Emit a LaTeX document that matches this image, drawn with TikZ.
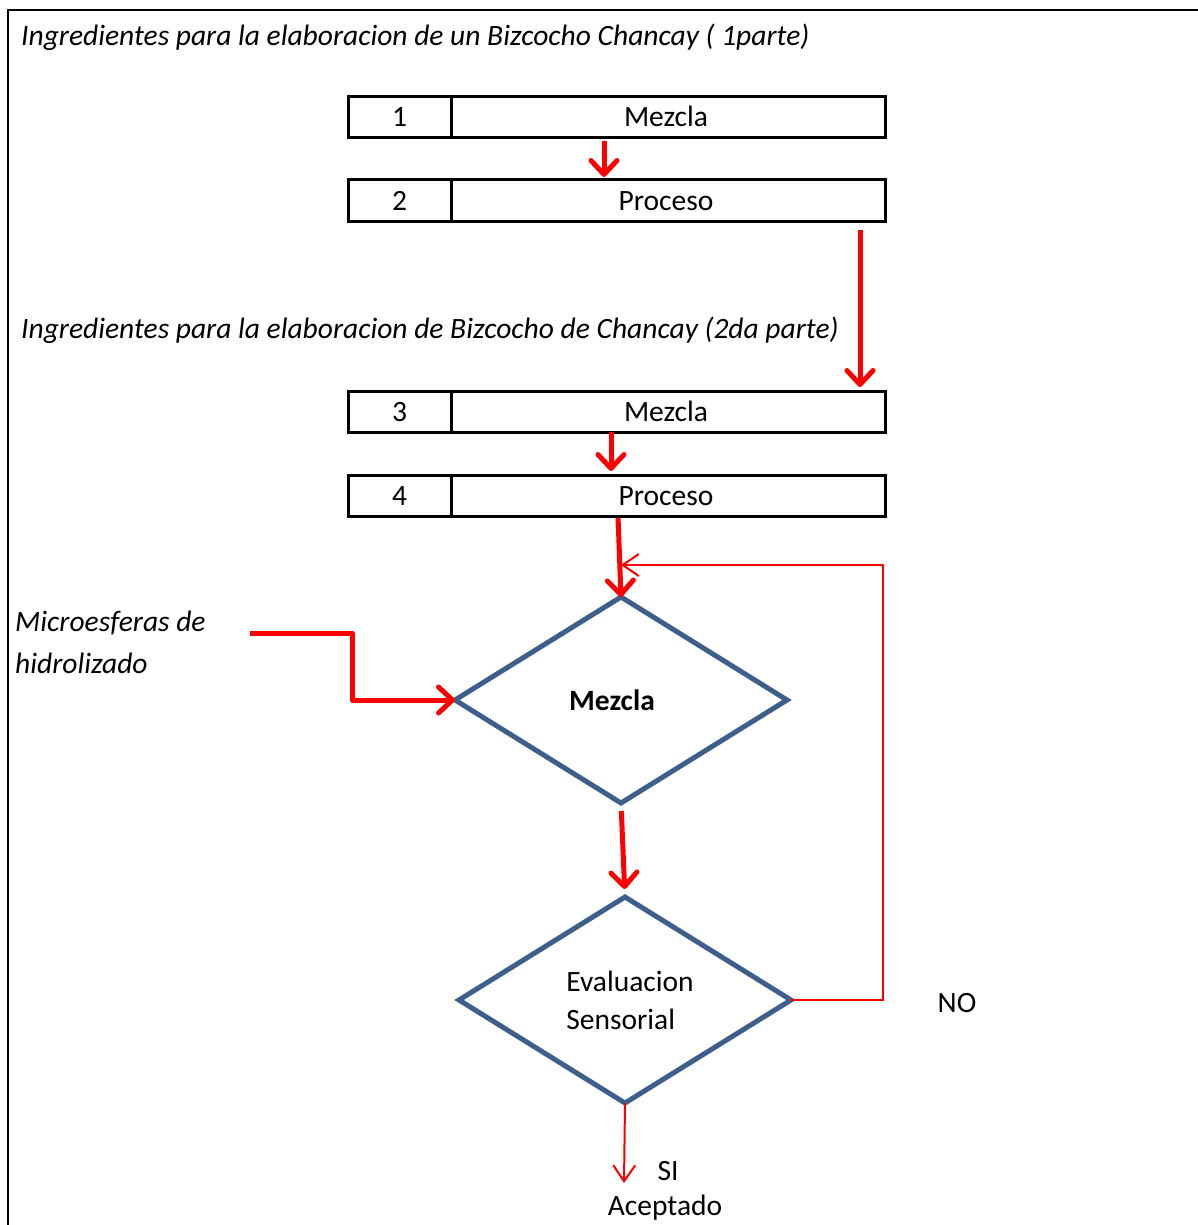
\documentclass[tikz,border=0pt]{standalone}
\usepackage{fontspec}
\setmainfont{Carlito}
\usetikzlibrary{arrows.meta,shapes.geometric}
\definecolor{flowblue}{RGB}{60,95,140}
\definecolor{flowred}{RGB}{255,0,0}
\tikzset{
  cell/.style={draw=black, line width=3pt, minimum height=41pt, inner sep=0pt, outer sep=0pt,
    anchor=north west, font=\fontsize{29.5}{34}\selectfont, text depth=0pt, text height=19pt},
  decision/.style={diamond, draw=flowblue, line width=5pt, inner sep=0pt, outer sep=0pt,
    minimum width=332pt, minimum height=206pt, aspect=1.6, line join=miter},
  heavyflow/.style={draw=flowred, line width=5pt, line join=round,
    -{Straight Barb[length=14pt,width=26pt,line width=5pt,round]}},
  lightflow/.style={draw=flowred, line width=2pt,
    -{Straight Barb[length=16pt,width=22pt,line width=2pt]}},
  heading/.style={anchor=west, inner sep=0pt, font=\fontsize{29.5}{34}\selectfont\itshape},
  plain/.style={inner sep=0pt, font=\fontsize{29.5}{34}\selectfont}
}
\begin{document}
\begin{tikzpicture}[x=1pt,y=-1pt]
\useasboundingbox (0,0) rectangle (1197,1225);
\fill[white] (0,0) rectangle (1197,1225);

% outer frame (top and left edges)
\draw[line width=2.5pt] (8,1226) -- (8,10) -- (1198,10);

% headings
\node[heading] (h1) at (21,37) {Ingredientes para la elaboracion de un Bizcocho Chancay ( 1parte)};
\node[heading] (h2) at (21,330) {Ingredientes para la elaboracion de Bizcocho de Chancay (2da parte)};

% numbered step rows
\node[cell, minimum width=103pt] (n1) at (348,97) {1};
\node[cell, minimum width=434pt] (b1) at (451,97) {\hspace*{-4pt}Mezcla};
\node[cell, minimum width=103pt] (n2) at (348,180) {2};
\node[cell, minimum width=434pt] (b2) at (451,180) {\hspace*{-4pt}Proceso};
\node[cell, minimum width=103pt] (n3) at (348,391) {3};
\node[cell, minimum width=434pt] (b3) at (451,391) {\hspace*{-4pt}Mezcla};
\node[cell, minimum width=103pt] (n4) at (348,475) {4};
\node[cell, minimum width=434pt] (b4) at (451,475) {\hspace*{-4pt}Proceso};

% decisions
\node[decision, font=\fontsize{29.5}{34}\selectfont\bfseries] (d1) at (621,700) {\hspace*{-18pt}Mezcla};
\node[decision, font=\fontsize{29.5}{38}\selectfont, align=left] (d2) at (625,1000) {\hspace*{10pt}Evaluacion\\\hspace*{10pt}Sensorial};

% side input
\node[plain, anchor=north west, align=left, font=\fontsize{29.5}{42}\selectfont\itshape] (micro) at (15,611) {Microesferas de\\hidrolizado};
\coordinate (msin) at (250,633);

% outcome labels
\node[plain] (no) at (957,1003) {NO};
\node[plain] (si) at (668,1171) {SI};
\node[plain] (acc) at (665,1208) {Aceptado};

% main flow
\draw[heavyflow, shorten <=3pt, shorten >=3pt] (b1.south -| 604,0) -- (b2.north -| 604,0);
\draw[heavyflow, shorten <=9pt, shorten >=4pt] (b2.south -| 860,0) -- (b3.north -| 860,0);
\draw[heavyflow, shorten >=4pt] (b3.south -| 611,0) -- (b4.north -| 611,0);
\draw[heavyflow, shorten <=2pt] (b4.south -| 618,0) -- (d1.north);
\draw[heavyflow, shorten <=8pt, shorten >=8pt] (d1.south) -- (d2.north);
\draw[heavyflow] (msin) -- ++(102,0) |- (d1.west);

% rejection loop and acceptance exit
\coordinate (loop) at (883,565);
\draw[lightflow] (d2.east) -| (loop) -- (d1.north |- loop);
\coordinate (exit) at (624,1183);
\draw[lightflow] (d2.south) -- (exit);
\end{tikzpicture}
\end{document}
